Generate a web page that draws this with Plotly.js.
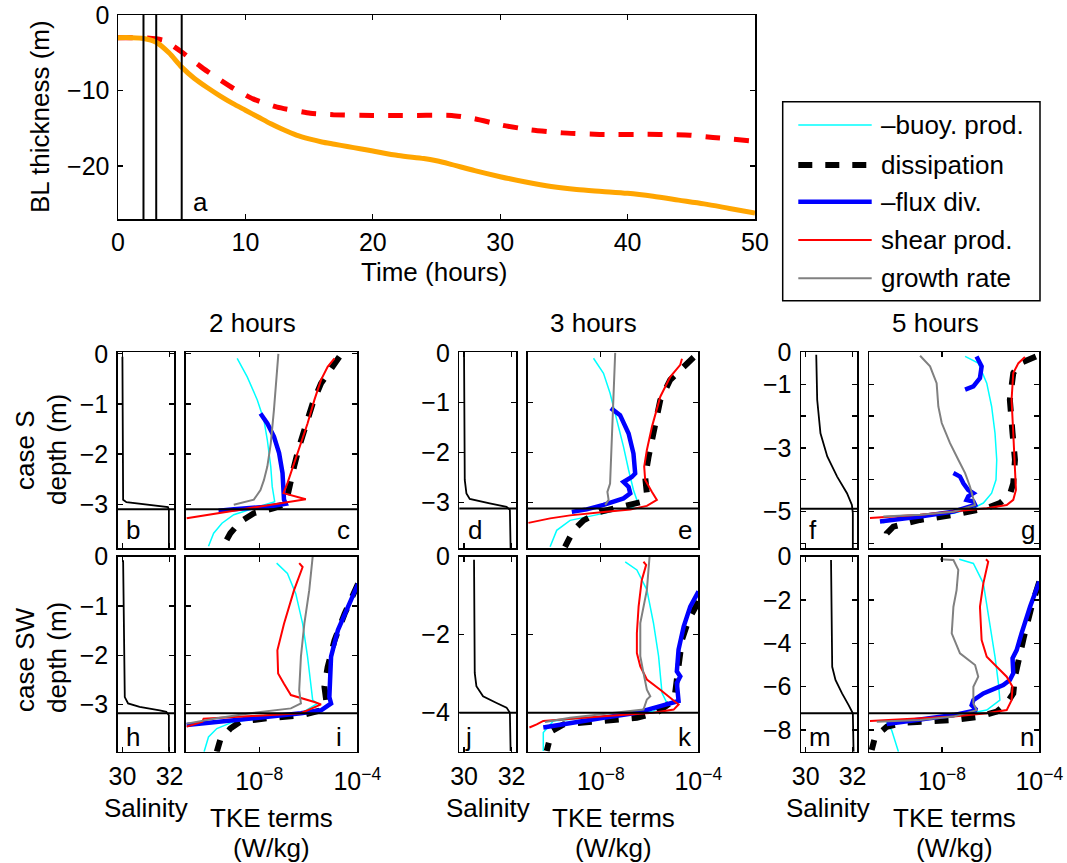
<!DOCTYPE html>
<html><head><meta charset="utf-8">
<script src="https://cdn.plot.ly/plotly-3.0.1.min.js"></script>
<style>html,body{margin:0;padding:0;background:#fff;} #chart{width:1067px;height:863px;}</style>
</head><body><div id="chart"></div>
<script>
// ---------------- Panel a: boundary-layer thickness time series ----------------
const timeOrange = [0,1,2,3,4,5,6,7,8,9,10,11,12,13,14,15,16,17,18,19,20,22,24,25,26,28,30,32,34,36,38,40,42,44,46,48,50];
const blOrange   = [-3.0,-3.0,-3.1,-3.6,-5.0,-6.9,-8.4,-9.6,-10.7,-11.7,-12.6,-13.5,-14.4,-15.2,-15.9,-16.4,-16.8,-17.1,-17.4,-17.7,-18.0,-18.6,-19.0,-19.3,-19.7,-20.6,-21.4,-22.1,-22.7,-23.1,-23.35,-23.6,-24.0,-24.5,-25.0,-25.6,-26.2];
const timeRed = [0,1,2.3,3.6,5.0,6.7,9.1,10.6,12.5,15.1,16.9,20,22.2,26.2,27.9,30.2,32.4,34.9,37.8,42.5,44.9,46.7,49.9];
const blRed   = [-3.0,-3.0,-3.05,-3.35,-4.9,-7.1,-9.75,-11.1,-12.2,-13.0,-13.2,-13.3,-13.3,-13.3,-13.7,-14.6,-15.2,-15.6,-15.8,-15.8,-15.9,-16.2,-16.7];
const markTimes = [2,3,5];

// ---------------- Boundary-layer depth lines in profile panels ----------------
const blDepthS  = [-3.1, -3.12, -4.91];   // panels b/c, d/e, f/g
const blDepthSW = [-3.18, -4.0, -7.23];   // panels h/i, j/k, m/n

// ---------------- Salinity profiles ----------------
const salB = [30.0,30.03,30.17,31.93,31.97,31.97];
const zB   = [-0.06,-2.91,-2.96,-3.06,-3.11,-3.88];
const salD = [30.0,30.03,30.1,30.24,31.08,31.79,31.93,31.96];
const zD   = [-0.04,-2.55,-2.82,-2.93,-3.02,-3.09,-3.15,-3.92];
const salF = [30.45,30.49,30.63,30.92,31.34,31.76,31.97,32.01,32.01];
const zF   = [-0.08,-1.49,-2.54,-3.27,-3.90,-4.42,-4.79,-5.05,-6.15];
const salH = [30.03,30.06,30.10,30.24,30.73,31.58,31.86,31.97,31.97];
const zH   = [-0.07,-1.70,-2.85,-2.98,-3.05,-3.12,-3.15,-3.22,-3.96];
const salJ = [30.42,30.45,30.52,30.80,31.37,31.79,31.93,31.96];
const zJ   = [-0.08,-2.98,-3.32,-3.58,-3.75,-3.87,-4.0,-4.98];
const salM = [31.08,31.10,31.13,31.27,31.55,31.83,32.01,32.04];
const zM   = [-0.15,-3.85,-5.08,-5.69,-6.31,-6.85,-7.23,-9.0];

// ---------------- TKE terms (log10 W/kg) and depths ----------------
// Panel c (case S, 2 h)
const cBuoyX = [-8.90,-8.49,-8.08,-7.81,-7.67,-7.53,-7.47,-7.42,-7.37,-8.22,-9.04,-9.52,-9.86,-10.07];
const cBuoyZ = [-0.09,-0.46,-0.92,-1.32,-1.72,-2.25,-2.65,-2.85,-2.95,-3.08,-3.21,-3.38,-3.58,-3.84];
const cDissX = [-4.73,-5.07,-5.48,-5.82,-6.10,-6.37,-6.58,-6.74,-6.82,-6.92,-7.40,-8.22,-8.77,-9.18,-9.52];
const cDissZ = [-0.06,-0.32,-0.59,-0.99,-1.39,-1.85,-2.25,-2.65,-2.85,-2.99,-3.08,-3.18,-3.35,-3.58,-3.88];
const cFluxX = [-7.95,-7.67,-7.40,-7.19,-7.05,-7.01,-6.99,-6.92,-7.67,-9.04,-9.66];
const cFluxZ = [-1.19,-1.39,-1.65,-1.98,-2.38,-2.78,-2.91,-2.99,-3.05,-3.10,-3.13];
const cShearX = [-4.93,-5.21,-5.48,-5.75,-6.03,-6.30,-6.58,-6.85,-7.01,-6.10,-10.96];
const cShearZ = [-0.09,-0.26,-0.52,-0.92,-1.39,-1.79,-2.18,-2.58,-2.78,-2.90,-3.28];
const cGrowX = [-7.22,-7.29,-7.40,-7.53,-7.67,-7.81,-7.95,-8.22,-9.04];
const cGrowZ = [0.0,-0.46,-1.12,-1.79,-2.25,-2.52,-2.72,-2.91,-3.01];
// Panel e (case S, 3 h)
const eBuoyX = [-8.30,-7.89,-7.62,-7.34,-7.07,-6.86,-6.66,-6.52,-6.66,-7.89,-9.26,-9.81,-10.08];
const eBuoyZ = [-0.11,-0.41,-0.81,-1.35,-1.88,-2.35,-2.75,-2.95,-3.09,-3.22,-3.36,-3.56,-3.89];
const eDissX = [-4.19,-4.60,-5.15,-5.56,-5.84,-6.04,-6.18,-6.11,-6.32,-7.07,-8.03,-8.71,-9.12,-9.47];
const eDissZ = [-0.09,-0.28,-0.54,-0.95,-1.55,-2.08,-2.49,-2.82,-2.99,-3.09,-3.19,-3.36,-3.56,-3.89];
const eFluxX = [-7.59,-7.21,-6.86,-6.66,-6.59,-6.73,-7.07,-6.86,-6.79,-7.07,-7.89,-8.58,-9.19];
const eFluxZ = [-1.11,-1.25,-1.62,-2.02,-2.42,-2.49,-2.59,-2.69,-2.82,-2.92,-3.05,-3.14,-3.19];
const eShearX = [-4.67,-4.74,-5.15,-5.56,-5.90,-6.11,-6.22,-6.18,-5.90,-5.70,-6.11,-6.79,-7.89,-9.26,-10.08,-10.97];
const eShearZ = [-0.12,-0.24,-0.48,-0.88,-1.48,-1.95,-2.28,-2.55,-2.79,-2.95,-3.07,-3.14,-3.19,-3.26,-3.32,-3.41];
const eGrowX = [-7.41,-7.48,-7.55,-7.62,-7.73,-7.68,-7.82];
const eGrowZ = [0.0,-0.95,-1.95,-2.62,-2.79,-2.95,-3.05];
// Panel g (case S, 5 h)
const gBuoyX = [-7.05,-6.51,-6.16,-5.96,-5.82,-5.75,-5.78,-5.96,-6.30,-6.71,-7.53,-8.90,-10.27,-10.41];
const gBuoyZ = [-0.13,-0.34,-0.97,-1.70,-2.54,-3.37,-4.0,-4.42,-4.73,-4.89,-5.05,-5.15,-5.26,-5.36];
const gDissX = [-4.14,-4.79,-5.07,-5.21,-5.10,-5.0,-5.07,-5.21,-5.62,-6.16,-7.53,-8.90,-10.0,-10.27,-10.34];
const gDissZ = [-0.13,-0.34,-0.65,-1.49,-2.54,-3.37,-4.11,-4.47,-4.73,-4.89,-5.10,-5.26,-5.47,-5.68,-6.09];
const gFluxX = [-6.58,-6.37,-6.44,-6.71,-7.05,null,-7.53,-7.26,-7.12,-6.92,-6.71,-6.92,-6.99,-6.71,-6.64,-7.53,-8.90,-10.55];
const gFluxZ = [-0.13,-0.44,-0.81,-1.07,-1.17,null,-3.79,-3.90,-4.11,-4.32,-4.42,-4.52,-4.63,-4.68,-4.79,-5.0,-5.15,-5.31];
const gShearX = [-4.59,-4.86,-5.07,-5.14,-5.07,-5.0,-4.96,-5.07,-5.34,-6.16,-7.53,-8.90,-10.96];
const gShearZ = [-0.15,-0.34,-0.65,-1.49,-2.54,-3.58,-4.32,-4.63,-4.79,-4.89,-5.0,-5.10,-5.20];
const gGrowX = [-8.90,-8.49,-8.22,-8.15,-8.01,-7.67,-7.33,-7.05,-6.85,-6.71,-6.64,-7.53,-8.90,-10.41];
const gGrowZ = [-0.11,-0.44,-0.97,-1.70,-2.22,-2.85,-3.37,-3.79,-4.21,-4.63,-4.79,-5.0,-5.10,-5.15];
// Panel i (case SW, 2 h)
const iBuoyX = [-7.29,-6.85,-6.51,-6.23,-6.03,-5.89,-5.82,-5.62,-6.30,-9.04,-9.73,-10.07,-10.25];
const iBuoyZ = [-0.13,-0.34,-0.75,-1.36,-2.03,-2.58,-2.91,-2.98,-3.18,-3.35,-3.49,-3.66,-3.96];
const iDissX = [-3.97,-4.52,-4.93,-5.21,-5.34,-5.27,-5.48,-6.30,-7.67,-8.77,-9.18,-9.59,-9.73];
const iDissZ = [-0.55,-1.16,-1.70,-2.24,-2.64,-2.91,-3.12,-3.22,-3.28,-3.35,-3.49,-3.72,-3.96];
const iFluxX = [-3.97,-4.38,-4.79,-5.07,-5.14,-5.14,-5.07,-5.48,-6.30,-8.36,-10.41,-10.96];
const iFluxZ = [-0.55,-1.02,-1.49,-2.03,-2.58,-2.85,-2.98,-3.12,-3.18,-3.28,-3.39,-3.42];
const iShearX = [-6.37,-6.23,-6.58,-6.99,-7.26,-7.23,-6.99,-6.71,-5.75,-5.48,-6.30,-9.04,-10.27,-10.32,-10.96];
const iShearZ = [-0.13,-0.21,-0.68,-1.36,-1.90,-2.37,-2.58,-2.81,-2.95,-3.0,-3.18,-3.25,-3.29,-3.35,-3.45];
const iGrowX = [-5.82,-5.96,-6.16,-6.30,-6.37,-6.30,-6.71,-8.36,-9.73,-10.96];
const iGrowZ = [0.0,-0.68,-1.36,-2.03,-2.71,-2.98,-3.08,-3.18,-3.28,-3.39];
// Panel k (case SW, 3 h)
const kBuoyX = [-7.0,-6.52,-6.11,-5.84,-5.63,-5.53,-5.49,-5.29,-5.84,-7.89,-9.95,-10.36,-10.36];
const kBuoyZ = [-0.13,-0.34,-0.85,-1.70,-2.55,-3.15,-3.49,-3.75,-3.96,-4.09,-4.21,-4.51,-4.98];
const kDissX = [-3.99,-4.40,-4.67,-4.81,-4.88,-4.95,-5.15,-5.70,-6.52,-7.89,-9.53,-10.01,-10.15,-10.22];
const kDissZ = [-1.15,-1.62,-2.13,-2.72,-3.24,-3.49,-3.75,-4.0,-4.13,-4.21,-4.30,-4.47,-4.85,-4.98];
const kFluxX = [-3.99,-4.33,-4.60,-4.81,-4.88,-4.74,-4.88,-4.81,-4.81,-5.56,-6.52,-7.89,-9.26,-10.36];
const kFluxZ = [-0.89,-1.28,-1.79,-2.38,-2.94,-3.07,-3.24,-3.58,-3.70,-3.83,-4.0,-4.13,-4.26,-4.38];
const kShearX = [-6.25,-6.14,-6.32,-6.45,-6.52,-6.52,-6.38,-6.11,-5.56,-5.08,-4.81,-5.01,-5.84,-7.89,-10.36,-10.63,-10.93];
const kShearZ = [-0.13,-0.21,-0.60,-1.28,-1.96,-2.47,-2.81,-3.15,-3.41,-3.66,-3.79,-3.92,-4.0,-4.09,-4.21,-4.30,-4.38];
const kGrowX = [-6.0,-6.11,-6.38,-6.38,-6.25,-6.11,-5.97,-6.11,-6.25,-7.89,-9.26,-10.29];
const kGrowZ = [0.0,-0.85,-1.70,-2.55,-2.98,-3.41,-3.58,-3.66,-3.92,-4.04,-4.13,-4.24];
// Panel n (case SW, 5 h)
const nBuoyX = [-7.29,-6.71,-6.30,-6.03,-5.82,-5.68,-5.62,-6.16,-7.53,-9.59,-10.27,-10.07,-9.79];
const nBuoyZ = [-0.12,-0.31,-1.23,-3.08,-4.62,-5.85,-6.62,-7.08,-7.38,-7.54,-7.69,-8.0,-9.0];
const nDissX = [-4.0,-4.32,-4.63,-4.86,-5.0,-5.07,-5.34,-5.75,-6.44,-7.53,-9.59,-10.27,-10.75,-10.89];
const nDissZ = [-1.15,-2.31,-3.69,-4.77,-5.54,-6.31,-6.77,-7.15,-7.38,-7.54,-7.66,-7.85,-8.31,-8.92];
const nFluxX = [-4.0,-4.38,-4.73,-4.93,-5.10,-5.07,-5.21,-5.48,-6.30,-6.71,-6.78,-6.58,-7.53,-8.90,-10.27];
const nFluxZ = [-1.15,-2.31,-3.54,-4.31,-4.69,-5.38,-5.69,-5.92,-6.31,-6.62,-6.85,-7.08,-7.31,-7.54,-7.72];
const nShearX = [-6.19,-6.10,-6.30,-6.44,-6.37,-6.16,-5.75,-5.34,-5.10,-5.14,-5.34,-6.16,-7.53,-9.59,-10.96];
const nShearZ = [-0.12,-0.23,-1.23,-2.31,-3.85,-4.62,-5.08,-5.54,-6.0,-6.62,-7.08,-7.23,-7.38,-7.51,-7.58];
const nGrowX = [-8.08,-7.53,-7.33,-7.40,-7.53,-7.60,-7.26,-6.64,-6.51,-6.71,-6.71,-6.58,-7.53,-8.90,-10.68];
const nGrowZ = [-0.12,-0.15,-0.61,-1.54,-2.31,-3.54,-4.46,-5.0,-5.54,-6.0,-6.77,-7.08,-7.38,-7.54,-7.62];

const legendLabels = ['\u2013buoy. prod.','dissipation','\u2013flux div.','shear prod.','growth rate'];
const columnTitles = ['2 hours','3 hours','5 hours'];
const panelLetters = ['b','c','d','e','f','g','h','i','j','k','m','n'];

// ---------------- Layout helpers ----------------
const W = 1067, H = 863;
const FONT = 'Liberation Sans, Arial, Helvetica, sans-serif';
const TICK = 25;
const xd = (a,b) => [a/W, b/W];
const yd = (t,b) => [1-b/H, 1-t/H];
const px = v => v/W, py = v => 1 - v/H;

const STY = {
  buoy:  {color:'#00FFFF', width:1.5},
  diss:  {color:'#000000', width:6, dash:'14px,13px'},
  flux:  {color:'#0000FF', width:4.5},
  shear: {color:'#FF0000', width:2},
  growth:{color:'#808080', width:2}
};

const baseAxis = {
  showline:true, linecolor:'#000', linewidth:1.5, mirror:'ticks',
  ticks:'inside', ticklen:5, tickwidth:1.3, tickcolor:'#000',
  showgrid:false, zeroline:false, fixedrange:true,
  tickfont:{family:FONT, size:TICK, color:'#000'}
};
const ax = o => Object.assign({}, baseAxis, o);

const traces = [];
const layout = {
  width:W, height:H, margin:{l:0,r:0,t:0,b:0},
  paper_bgcolor:'#fff', plot_bgcolor:'#fff', showlegend:false,
  font:{family:FONT, color:'#000'},
  shapes:[], annotations:[]
};

// Panel a
layout.xaxis = ax({domain:xd(118,755), range:[0,50], tickvals:[0,10,20,30,40,50], ticklabelstandoff:0, anchor:'y'});
layout.yaxis = ax({domain:yd(15,219), range:[-27,0], tickvals:[0,-10,-20], ticklabelstandoff:2, anchor:'x'});
traces.push({x:timeRed, y:blRed, mode:'lines', line:{color:'#FF0000', width:5, dash:'15px,14px', shape:'spline', smoothing:0.5}, xaxis:'x', yaxis:'y', hoverinfo:'skip'});
traces.push({x:timeOrange, y:blOrange, mode:'lines', line:{color:'#FFA500', width:5, shape:'spline', smoothing:0.8}, xaxis:'x', yaxis:'y', hoverinfo:'skip'});
markTimes.forEach(t => layout.shapes.push({type:'line', xref:'x', yref:'y domain', x0:t, x1:t, y0:0, y1:1, line:{color:'#000', width:2}}));

// Profile panel geometry
const salCols = [[117.7,174.3],[459.3,516.3],[801,857.3]];
const tkeCols = [[185.7,357.3],[527.7,698.3],[869,1039.3]];
const rows = [[352.3,548.3],[556.7,751.7]];
const yRanges = [[[-3.88,0.03],[-3.92,0.01],[-6.15,0]], [[-3.96,0],[-5,0],[-9,0]]];
const yTickVals = [[[0,-1,-2,-3],[0,-1,-2,-3],[0,-1,-2,-3,-4,-5,-6]], [[0,-1,-2,-3],[0,-2,-4],[0,-2,-4,-6,-8]]];
const yTickText = [[null,null,['0','\u22121',' ','\u22123',' ','\u22125',' ']],[null,null,null]];
const salData = [[[salB,zB],[salD,zD],[salF,zF]], [[salH,zH],[salJ,zJ],[salM,zM]]];
const tkeData = [
  [
    {buoy:[cBuoyX,cBuoyZ], diss:[cDissX,cDissZ], flux:[cFluxX,cFluxZ], shear:[cShearX,cShearZ], growth:[cGrowX,cGrowZ]},
    {buoy:[eBuoyX,eBuoyZ], diss:[eDissX,eDissZ], flux:[eFluxX,eFluxZ], shear:[eShearX,eShearZ], growth:[eGrowX,eGrowZ]},
    {buoy:[gBuoyX,gBuoyZ], diss:[gDissX,gDissZ], flux:[gFluxX,gFluxZ], shear:[gShearX,gShearZ], growth:[gGrowX,gGrowZ]}
  ],[
    {buoy:[iBuoyX,iBuoyZ], diss:[iDissX,iDissZ], flux:[iFluxX,iFluxZ], shear:[iShearX,iShearZ], growth:[iGrowX,iGrowZ]},
    {buoy:[kBuoyX,kBuoyZ], diss:[kDissX,kDissZ], flux:[kFluxX,kFluxZ], shear:[kShearX,kShearZ], growth:[kGrowX,kGrowZ]},
    {buoy:[nBuoyX,nBuoyZ], diss:[nDissX,nDissZ], flux:[nFluxX,nFluxZ], shear:[nShearX,nShearZ], growth:[nGrowX,nGrowZ]}
  ]
];
const blDepths = [blDepthS, blDepthSW];
const letterPos = [
  [[133,530],[343,530],[475,530],[685,530],[813,530],[1028,530]],
  [[133,737],[339,737],[468,737],[685,737],[820,737],[1027,737]]
];

let n = 2, li = 0;
for (let r = 0; r < 2; r++) {
  for (let c = 0; c < 3; c++) {
    const sN = n, tN = n + 1; n += 2;
    const sx = 'x'+sN, sy = 'y'+sN, tx = 'x'+tN, ty = 'y'+tN;
    const bottom = r === 1;
    const ytv = yTickVals[r][c], ytt = yTickText[r][c];
    // salinity axes
    layout['xaxis'+sN] = ax({domain:xd(salCols[c][0], salCols[c][1]), range:[29.8,32.2], tickvals:[30,32], showticklabels:bottom, ticklabelstandoff:2, anchor:sy});
    const ySal = {domain:yd(rows[r][0], rows[r][1]), range:yRanges[r][c], tickvals:ytv, ticklabelstandoff:3, anchor:sx};
    if (ytt) ySal.ticktext = ytt;
    layout['yaxis'+sN] = ax(ySal);
    // TKE axes
    layout['xaxis'+tN] = ax({domain:xd(tkeCols[c][0], tkeCols[c][1]), type:'log', range:[-11,-4], tickvals:[1e-8,1e-4],
      ticktext:['10<sup>\u22128</sup>','10<sup>\u22124</sup>'], showticklabels:bottom, ticklabelstandoff:7, anchor:ty});
    layout['yaxis'+tN] = ax({domain:yd(rows[r][0], rows[r][1]), range:yRanges[r][c], tickvals:ytv, showticklabels:false, anchor:tx});
    // salinity trace
    const sd = salData[r][c];
    traces.push({x:sd[0], y:sd[1], mode:'lines', line:{color:'#000', width:1.8}, xaxis:sx, yaxis:sy, hoverinfo:'skip'});
    // TKE traces
    const td = tkeData[r][c];
    ['buoy','diss','flux','shear','growth'].forEach(k => {
      traces.push({x:td[k][0].map(v => v === null ? null : Math.pow(10, v)), y:td[k][1], mode:'lines',
        line:Object.assign({}, STY[k]), xaxis:tx, yaxis:ty, hoverinfo:'skip', connectgaps:false});
    });
    // BL depth lines
    const d = blDepths[r][c];
    [[sx,sy],[tx,ty]].forEach(([a,b]) => layout.shapes.push({type:'line', xref:a+' domain', yref:b, x0:0, x1:1, y0:d, y1:d, line:{color:'#000', width:2}}));
    // letters
    [0,1].forEach(j => {
      const p = letterPos[r][2*c+j];
      layout.annotations.push({text:panelLetters[li++], xref:'paper', yref:'paper', x:px(p[0]), y:py(p[1]), showarrow:false, xanchor:'center', yanchor:'middle', font:{size:26, family:FONT, color:'#000'}});
    });
  }
}

// Text annotations
const ann = (text, x, y, size, angle) => layout.annotations.push({text, xref:'paper', yref:'paper', x:px(x), y:py(y), showarrow:false, xanchor:'center', yanchor:'middle', textangle:angle||0, font:{size, family:FONT, color:'#000'}});
ann('a', 200, 202, 26);
ann('BL thickness (m)', 40, 117, 26, -90);
ann('Time (hours)', 434, 272, 26);
ann(columnTitles[0], 252, 323, 26);
ann(columnTitles[1], 593, 323, 26);
ann(columnTitles[2], 935, 323, 26);
ann('case S', 25, 450, 26, -90);
ann('depth (m)', 57, 450, 26, -90);
ann('case SW', 25, 660, 26, -90);
ann('depth (m)', 57, 658, 26, -90);
[146, 487.5, 828].forEach(x => ann('Salinity', x, 808, 26));
[271.5, 613, 954].forEach(x => { ann('TKE terms', x, 818, 26); ann('(W/kg)', x, 848, 26); });

// Legend (drawn box)
layout.shapes.push({type:'rect', xref:'paper', yref:'paper', x0:px(782.7), x1:px(1040), y0:py(101.7), y1:py(300.7), line:{color:'#000', width:1.5}, fillcolor:'#fff', layer:'above'});
const legY = [125, 165, 201.7, 240, 278.3];
['buoy','diss','flux','shear','growth'].forEach((k, i) => {
  const s = STY[k];
  layout.shapes.push({type:'line', xref:'paper', yref:'paper', x0:px(798.3), x1:px(871.7), y0:py(legY[i]), y1:py(legY[i]),
    line:{color:s.color, width:s.width, dash:s.dash||'solid'}, layer:'above'});
  layout.annotations.push({text:legendLabels[i], xref:'paper', yref:'paper', x:px(879), y:py(legY[i]), showarrow:false, xanchor:'left', yanchor:'middle', font:{size:26, family:FONT, color:'#000'}});
});

Plotly.newPlot('chart', traces, layout, {staticPlot:true, displayModeBar:false});
</script></body></html>
